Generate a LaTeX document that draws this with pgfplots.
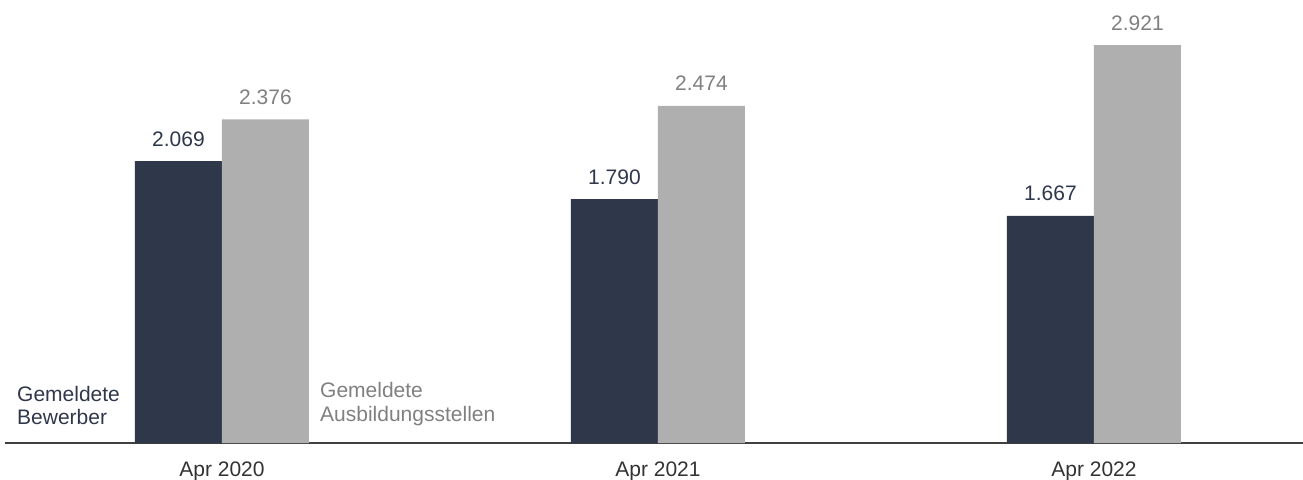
\documentclass[border=0pt]{standalone}
\usepackage{pgfplots}
\pgfplotsset{compat=1.18}
\usepackage{fontspec}
\setmainfont{Liberation Sans}

\definecolor{navy}{HTML}{2F374B}
\definecolor{bargray}{HTML}{AFAFAF}
\definecolor{textgray}{HTML}{808080}
\definecolor{axisgray}{HTML}{404040}

\newcommand{\lbl}{\fontsize{21}{25}\selectfont}

\begin{document}
\begin{tikzpicture}
\useasboundingbox (0,0) rectangle (1303pt,479pt);
\begin{axis}[
    at={(5pt,36pt)}, anchor=south west,
    scale only axis,
    width=1298pt, height=443pt,
    xmin=-0.4977, xmax=2.4794,
    ymin=0, ymax=3252,
    axis y line=none,
    axis x line*=bottom,
    axis line style={draw=axisgray, line width=1.5pt, -},
    xtick=data,
    xticklabels={Apr 2020, Apr 2021, Apr 2022},
    major tick length=0pt,
    xticklabel style={font=\lbl, anchor=base, yshift=-33pt, text=black!80},
    ybar=0pt,
    bar width=87pt,
    point meta=explicit symbolic,
    nodes near coords,
    nodes near coords style={font=\lbl, anchor=base, yshift=15pt},
    clip=false,
]
\addplot[fill=navy, draw=none,
    nodes near coords style={text=navy}]
    coordinates {(0,2069) [2.069] (1,1790) [1.790] (2,1667) [1.667]};
\addplot[fill=bargray, draw=none,
    nodes near coords style={text=textgray}]
    coordinates {(0,2376) [2.376] (1,2474) [2.474] (2,2921) [2.921]};
\end{axis}
\node[anchor=base west, inner sep=0pt, font=\lbl, text=navy] at (17pt,77.3pt) {Gemeldete};
\node[anchor=base west, inner sep=0pt, font=\lbl, text=navy] at (17pt,54pt) {Bewerber};
\node[anchor=base west, inner sep=0pt, font=\lbl, text=textgray] at (320pt,81.3pt) {Gemeldete};
\node[anchor=base west, inner sep=0pt, font=\lbl, text=textgray] at (320pt,57.3pt) {Ausbildungsstellen};
\end{tikzpicture}
\end{document}
